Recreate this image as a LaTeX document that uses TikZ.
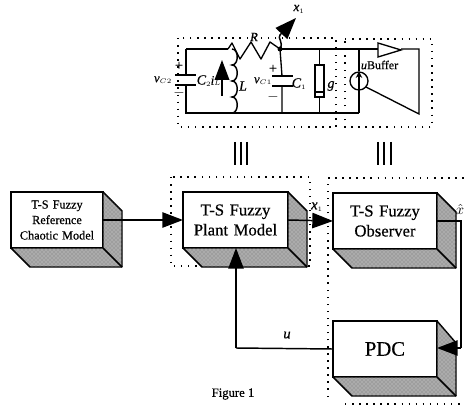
\documentclass[tikz,border=0pt]{standalone}
\usepackage{fontspec}
\setmainfont[FakeBold=0.5]{Liberation Serif}
\usetikzlibrary{arrows.meta,positioning,patterns}
\newcommand{\solidblock}[2]{% name, top-right depth
  \fill[shadeface,draw=black,line width=1.1pt,line join=round]
    (#1.north east) -- ([shift={(19,#2)}]#1.north east) -- ([shift={(19,19)}]#1.south east)
    -- ([shift={(19,19)}]#1.south west) -- (#1.south west) -- (#1.south east) -- cycle;
  \draw[line width=1.1pt] (#1.south east) -- ([shift={(19,19)}]#1.south east);
}
\tikzset{
  x=0.75pt,y=-0.75pt,
  shadeface/.style={fill=black!33,postaction={pattern=crosshatch dots,pattern color=black!55}},
  block/.style={draw=black,line width=1.1pt,fill=white,inner sep=0pt,outer sep=0pt,align=center,text width=#1*0.75pt-2pt},
  dotbox/.style={draw=black,line width=1.1pt,dash pattern=on 1.1pt off 4.2pt},
  wire/.style={line width=1pt},
  flow/.style={line width=1.1pt,-{Triangle[length=15.5pt,width=11.5pt]}},
  lab/.style={inner sep=0pt,outer sep=0pt},
}
\begin{document}
\begin{tikzpicture}
\useasboundingbox (0,0) rectangle (464,406);
% dotted groups
\draw[dotbox] (178,38) rectangle (336,127);
\draw[dotbox] (345,39) -- (432,39) -- (432,127) -- (345,127) -- cycle;
\draw[dotbox] (171,177) rectangle (310,266);
\draw[dotbox] (328,397) -- (328,178) -- (464,178);
\draw[dotbox] (345,404) -- (464,404);
% blocks
\node[block=92,minimum width=69pt,minimum height=42pt,font=\fontsize{9.2}{11.6}\selectfont] (ref) at (57,220) {T-S Fuzzy\\Reference\\Chaotic Model};
\node[block=105,minimum width=78.75pt,minimum height=42pt,font=\fontsize{12.5}{15}\selectfont] (plant) at (235.5,220) {T-S Fuzzy\\Plant Model};
\node[block=104,minimum width=78pt,minimum height=42pt,font=\fontsize{12.5}{15}\selectfont] (obs) at (385,221) {T-S Fuzzy\\Observer};
\node[block=104,minimum width=78pt,minimum height=42pt,font=\fontsize{15.5}{18}\selectfont] (pdc) at (385,349) {PDC};
\solidblock{ref}{19}
\solidblock{plant}{19}
\solidblock{obs}{19}
\solidblock{pdc}{22}
% block connectors
\coordinate (xhatbend) at (461,221);
\coordinate (pdcturn) at (461,348);
\coordinate (pdcin) at (437,348);
\coordinate (ucorner) at (236,348);
\coordinate (plantin) at (236,248);
\draw[flow] (ref.east) -- (plant.west);
\draw[flow] (plant.east) -- (obs.west);
\draw[line width=1.1pt] (obs.east) -- (xhatbend) -- (pdcturn);
\draw[flow] (pdcturn) -- (pdcin);
\draw[line width=1.1pt] (pdc.west) -- (ucorner);
\draw[flow] (ucorner) -- (plantin);
\node[lab,font=\itshape\fontsize{11}{12}\selectfont] (xa) at (317,207) {x$_{\scriptscriptstyle 1}$};
\node[lab,font=\itshape\fontsize{11}{12}\selectfont] (xh) at (460,209) {$\hat{x}$};
\node[lab,font=\itshape\fontsize{11}{12}\selectfont] (ulab) at (287,335) {u};
\node[lab,font=\fontsize{9.5}{12}\selectfont] (fig) at (233,394) {Figure 1};
% equivalence bars
\foreach \bx in {235,241,247,378,384,391}{
  \draw[line width=1.2pt] (\bx,142) -- (\bx,165);
}
% circuit
\coordinate (tl) at (186,49); \coordinate (bl) at (186,113);
\coordinate (rs) at (228,49); \coordinate (n1) at (280,49);
\coordinate (tr) at (419,49); \coordinate (br) at (419,114);
\draw[wire] (tl) -- (rs);
\draw[wire] (tl) -- (186,75) (186,85) -- (bl) -- (359,113);
\draw[line width=1.3pt] (175,75) -- (196,75) (175,85) -- (196,85);
% resistor R
\draw[wire,line join=round] (rs) -- (232,43) -- (240,59) -- (251,42) -- (261,59) -- (270,42) -- (n1);
\fill (n1) circle (2.5);
% inductor L
\draw[line width=1.1pt]
  (232,49) .. controls (239,49) and (239,65) .. (232,65)
  .. controls (239,65) and (239,81) .. (232,81)
  .. controls (239,81) and (239,97) .. (232,97)
  .. controls (239,97) and (239,113) .. (232,113);
\coordinate (ilow) at (222,96); \coordinate (ihigh) at (222,60);
\draw[line width=1.1pt,-{Triangle[length=15pt,width=11pt]}] (ilow) -- (ihigh);
% C1
\draw[wire] (n1) -- (282,76) (282,86) -- (282,113);
\draw[line width=1.3pt] (272,76) -- (293,76) (272,86) -- (293,86);
% g
\node[draw=black,line width=1pt,fill=white,minimum width=6.8pt,minimum height=24pt,inner sep=0pt] (grs) at (319.5,81) {};
\draw[wire] (319.5,49) -- (grs.north) (grs.south) -- (319.5,113);
\draw[line width=0.8pt] (315,92) -- (324,92);
% top wire, buffer, source
\node[draw=black,line width=1pt,circle,minimum size=13.5pt,inner sep=0pt,fill=white] (src) at (359,81) {};
\draw[wire] (n1) -- (378,49);
\draw[wire] (359,49) -- (src.north) (src.south) -- (359,113);
\draw[line width=0.9pt,-{Stealth[length=5pt,width=5pt]}] (src.south) -- (src.north);
\draw[line width=1pt] (378,43) -- (401,50) -- (378,57) -- cycle;
\draw[wire] (401,49) -- (tr) -- (br) -- (366,87);
% output x1
\coordinate (xout) at (296,18);
\draw[line width=1.1pt,-{Triangle[length=16pt,width=12pt]}] (n1) .. controls (284,42) and (277,38) .. (280,35) -- (xout);
% circuit labels
\node[lab,font=\itshape\fontsize{10}{11}\selectfont] (xb) at (299,9) {x$_{\scriptscriptstyle 1}$};
\node[lab,font=\itshape\fontsize{9.5}{11}\selectfont] (rl) at (254,37) {R};
\node[lab,font=\fontsize{11}{12}\selectfont] (cp) at (179,66) {+};
\node[lab,font=\fontsize{11}{12}\selectfont] (cm) at (179,93) {$-$};
\node[lab,font=\itshape\fontsize{9.5}{11}\selectfont] (vc2) at (163,80) {v$_{\scriptscriptstyle C2}$};
\node[lab,font=\itshape\fontsize{10.5}{11}\selectfont] (c2) at (204,81) {C$_{\scriptscriptstyle 2}$};
\node[lab,font=\itshape\fontsize{9.5}{11}\selectfont] (il) at (216,81) {i$_{\scriptscriptstyle L}$};
\node[lab,font=\itshape\fontsize{10.5}{11}\selectfont] (ll) at (243,86) {L};
\node[lab,font=\fontsize{11}{12}\selectfont] (pp) at (273,69) {+};
\node[lab,font=\fontsize{11}{12}\selectfont] (pm) at (273,97) {$-$};
\node[lab,font=\itshape\fontsize{9.5}{11}\selectfont] (vc1) at (263,81) {v$_{\scriptscriptstyle C1}$};
\node[lab,font=\itshape\fontsize{10.5}{11}\selectfont] (c1) at (299,84) {C$_{\scriptscriptstyle 1}$};
\node[lab,font=\itshape\fontsize{10.5}{11}\selectfont] (gl) at (331,86) {g};
\node[lab,font=\fontsize{9}{11}\selectfont,anchor=west] (bu) at (361,65) {\textit{u}Buffer};
\end{tikzpicture}
\end{document}
